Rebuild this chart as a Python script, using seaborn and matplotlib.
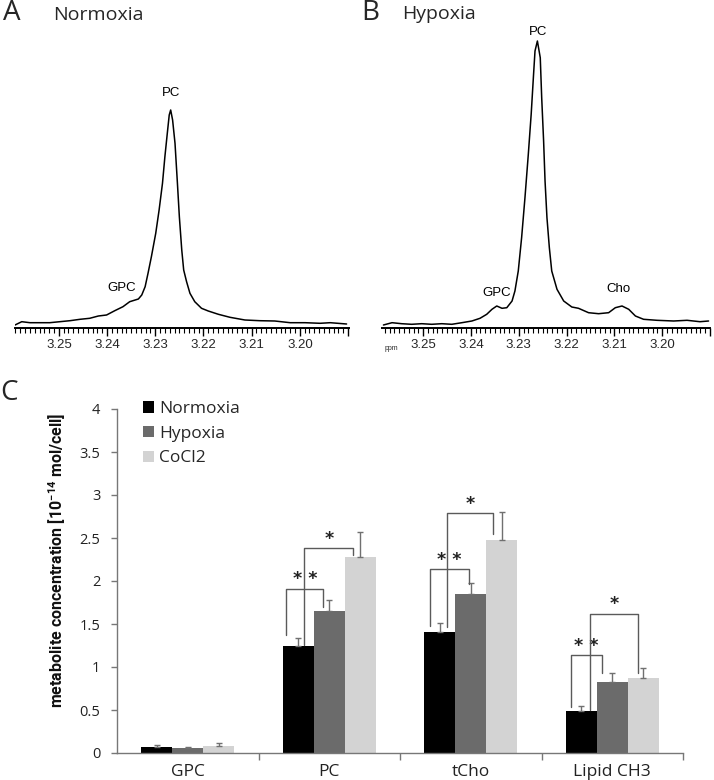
import numpy as np
import pandas as pd
import matplotlib
matplotlib.use("Agg")
import matplotlib.pyplot as plt
import seaborn as sns
from matplotlib.patches import Patch
from matplotlib.ticker import FixedLocator, MultipleLocator

sns.set_theme(style="white")
plt.rcParams["font.family"] = ["Open Sans", "DejaVu Sans"]
plt.rcParams["mathtext.default"] = "regular"

# ---------------- data: spectra ----------------
ppm_norm = [3.2591, 3.2577, 3.2560, 3.2539, 3.2519, 3.2498, 3.2477, 3.2456, 3.2436, 3.2418,
            3.2401, 3.2384, 3.2367, 3.2353, 3.2335, 3.2328, 3.2321, 3.2315, 3.2308, 3.2299,
            3.2292, 3.2285, 3.2280, 3.2275, 3.2271, 3.2268, 3.2264, 3.2259, 3.2254, 3.2250,
            3.2245, 3.2241, 3.2235, 3.2228, 3.2218, 3.2204, 3.2190, 3.2169, 3.2145, 3.2114,
            3.2083, 3.2052, 3.2020, 3.1989, 3.1958, 3.1937, 3.1903]
int_norm = [3, 6.3, 5.3, 5.3, 5.3, 6.3, 7.3, 8.7, 9.7, 12,
            13, 17.3, 21.3, 26.3, 29, 33, 41.3, 54.7, 71.3, 94.7,
            118, 144.7, 171.3, 194.7, 213, 218, 208, 184.7, 144.7, 111.3,
            78, 58, 46.3, 34.7, 26.3, 19.7, 17, 13.7, 10.7, 8,
            7.3, 7, 5.3, 5.3, 4.7, 5.3, 4]

ppm_hyp = [3.2583, 3.2565, 3.2545, 3.2524, 3.2503, 3.2482, 3.2461, 3.2440, 3.2419, 3.2398,
           3.2381, 3.2367, 3.2356, 3.2346, 3.2335, 3.2325, 3.2314, 3.2308, 3.2301, 3.2294,
           3.2287, 3.2280, 3.2274, 3.2269, 3.2266, 3.2261, 3.2255, 3.2252, 3.2248, 3.2245,
           3.2241, 3.2236, 3.2231, 3.2220, 3.2206, 3.2189, 3.2175, 3.2154, 3.2133, 3.2112,
           3.2098, 3.2084, 3.2070, 3.2056, 3.2039, 3.2011, 3.1976, 3.1948, 3.1921, 3.1903]
int_hyp = [3, 5.3, 4.3, 3.7, 4.3, 3.7, 4.3, 3.7, 5.3, 7,
           9.7, 13.7, 18.7, 22, 19.7, 20.3, 27, 37, 57, 90.3,
           130.3, 173.7, 213.7, 253.7, 277, 287, 270.3, 230.3, 187, 147,
           110.3, 80.3, 57, 38.7, 27, 21, 19.7, 15.3, 14.3, 15.3,
           20.3, 22, 18.7, 12, 8.7, 7.7, 7, 7.7, 6.3, 7]

ppm_ticks = [3.25, 3.24, 3.23, 3.22, 3.21, 3.20, 3.19]
ppm_ticklabels = ["3.25", "3.24", "3.23", "3.22", "3.21", "3.20", ""]

peaks_norm = [("PC", 3.2267, 235), ("GPC", 3.2369, 40)]
peaks_hyp = [("PC", 3.2259, 296), ("GPC", 3.2347, 35), ("Cho", 3.2092, 39)]

# ---------------- data: bar chart ----------------
categories = ["GPC", "PC", "tCho", "Lipid CH3"]
conditions = ["Normoxia", "Hypoxia", "CoCl2"]
normoxia = [0.066, 1.25, 1.41, 0.49]
hypoxia = [0.058, 1.65, 1.85, 0.83]
cocl2 = [0.080, 2.28, 2.48, 0.87]
err_normoxia = [0.027, 0.09, 0.10, 0.06]
err_hypoxia = [0.012, 0.13, 0.13, 0.10]
err_cocl2 = [0.040, 0.29, 0.32, 0.12]
yticks = [0, 0.5, 1, 1.5, 2, 2.5, 3, 3.5, 4]
yticklabels = ["0", "0.5", "1", "1.5", "2", "2.5", "3", "3.5", "4"]

# significance brackets: (category, left offset, right offset, top, left bottom, right bottom, label)
brackets = [
    (1, -0.304, -0.042, 1.91, 1.37, 1.70, "* *"),
    (1, -0.177, 0.170, 2.38, 1.26, 2.30, "*"),
    (2, -0.290, -0.012, 2.14, 1.48, 1.97, "* *"),
    (2, -0.167, 0.158, 2.79, 1.47, 2.55, "*"),
    (3, -0.288, -0.074, 1.14, 0.54, 0.93, "* *"),
    (3, -0.159, 0.185, 1.62, 0.50, 0.93, "*"),
]

colors = ["#000000", "#6b6b6b", "#d3d3d3"]

W, H = 714, 780
fig = plt.figure(figsize=(W / 100, H / 100), dpi=100)


def fbox(x0, y0, x1, y1):
    return [x0 / W, 1 - y1 / H, (x1 - x0) / W, (y1 - y0) / H]


def spectrum(ax, ppm, inten, xlim, peaks):
    d = pd.DataFrame({"ppm": ppm, "I": inten})
    sns.lineplot(data=d, x="ppm", y="I", ax=ax, color="black", lw=1.1,
                 estimator=None, sort=False)
    ax.set_xlim(*xlim)
    ax.set_ylim(0, 298)
    for s in ["top", "left", "right"]:
        ax.spines[s].set_visible(False)
    ax.spines["bottom"].set_color("black")
    ax.spines["bottom"].set_linewidth(1.4)
    ax.set_yticks([])
    ax.xaxis.set_major_locator(FixedLocator(ppm_ticks))
    ax.set_xticklabels(ppm_ticklabels)
    ax.xaxis.set_minor_locator(MultipleLocator(0.001))
    ax.tick_params(axis="x", which="major", direction="out", length=6, width=1,
                   color="black", labelsize=9.5, pad=2, bottom=True)
    ax.tick_params(axis="x", which="minor", direction="out", length=3.5, width=0.8,
                   color="black", bottom=True)
    for lab in ax.get_xticklabels():
        lab.set_family(["Liberation Sans", "DejaVu Sans"])
    ax.set_xlabel("")
    ax.set_ylabel("")
    for name, x, y in peaks:
        ax.text(x, y, name, ha="center", va="center", fontsize=9.5,
                family=["Liberation Sans", "DejaVu Sans"], color="black")


axA = fig.add_axes(fbox(15, 30, 349, 328))
spectrum(axA, ppm_norm, int_norm, (3.2591, 3.1898), peaks_norm)
axB = fig.add_axes(fbox(382, 30, 710, 328))
spectrum(axB, ppm_hyp, int_hyp, (3.2586, 3.1900), peaks_hyp)

fig.text(3 / W, 1 - 13 / H, "A", fontsize=20, ha="left", va="center")
fig.text(53 / W, 1 - 15 / H, "Normoxia", fontsize=14, ha="left", va="center")
fig.text(361 / W, 1 - 13 / H, "B", fontsize=20, ha="left", va="center")
fig.text(402 / W, 1 - 14 / H, "Hypoxia", fontsize=14, ha="left", va="center")
fig.text(391 / W, 1 - 348 / H, "ppm", fontsize=5, ha="center", va="center",
         family=["Liberation Sans", "DejaVu Sans"])
fig.text(0 / W, 1 - 393 / H, "C", fontsize=20, ha="left", va="center")

# ---------------- bar chart ----------------
axC = fig.add_axes(fbox(117, 409, 683, 753))
df = pd.DataFrame({
    "category": np.repeat(categories, 3),
    "condition": conditions * len(categories),
    "value": [v for trio in zip(normoxia, hypoxia, cocl2) for v in trio],
})
sns.barplot(data=df, x="category", y="value", hue="condition", order=categories,
            hue_order=conditions, palette=colors, width=0.66, gap=0, errorbar=None,
            saturation=1, ax=axC, legend=False, linewidth=0)

errs = [err_normoxia, err_hypoxia, err_cocl2]
vals = [normoxia, hypoxia, cocl2]
for cont, e, v in zip(axC.containers, errs, vals):
    xs = [p.get_x() + p.get_width() / 2 for p in cont.patches]
    axC.errorbar(xs, v, yerr=[np.zeros(len(e)), e], fmt="none", ecolor="#707070",
                 elinewidth=1, capsize=2.2, capthick=1, zorder=3)

bc = "#5a5a5a"
for cat, lo, ro, top, lb, rb, lab in brackets:
    xl, xr = cat + lo, cat + ro
    axC.plot([xl, xl, xr, xr], [lb, top, top, rb], color=bc, lw=1, zorder=4)
    axC.text((xl + xr) / 2, top + 0.005, lab, ha="center", va="bottom",
             fontsize=12.5, fontweight="bold", color="#222222",
             family=["DejaVu Sans"])

axC.set_xlim(-0.5, 3.5)
axC.set_ylim(0, 4)
axC.set_yticks(yticks)
axC.set_yticklabels(yticklabels)
axC.set_xticks(range(len(categories)))
axC.set_xticklabels(categories)
axC.xaxis.set_minor_locator(FixedLocator([0.5, 1.5, 2.5, 3.5]))
axC.tick_params(axis="x", which="major", length=0, pad=8, labelsize=12.5, colors="#222222")
axC.tick_params(axis="x", which="minor", length=5, width=1, color="#777777", bottom=True,
                direction="out")
axC.tick_params(axis="y", which="major", length=4, width=1, color="#777777", left=True,
                direction="out", pad=8, labelsize=10.5, labelcolor="#222222")
for s in ["top", "right"]:
    axC.spines[s].set_visible(False)
for s in ["left", "bottom"]:
    axC.spines[s].set_color("#777777")
    axC.spines[s].set_linewidth(1)
axC.set_xlabel("")
axC.set_ylabel("")

fig.text(57 / W, 1 - 560 / H, "metabolite concentration [10$^{-14}$ mol/cell]",
         rotation=90, ha="center", va="center", fontsize=11.5, fontweight="bold",
         family=["Roboto", "DejaVu Sans"], color="#111111")

handles = [Patch(facecolor=c, edgecolor="none") for c in colors]
axC.legend(handles, conditions, loc="upper left", bbox_to_anchor=(143 / W, 1 - 401 / H),
           bbox_transform=fig.transFigure, frameon=False, fontsize=12.5,
           handlelength=0.63, handleheight=0.63, handletextpad=0.3,
           labelspacing=0.5, borderpad=0, borderaxespad=0)

fig.savefig("out.png", dpi=100)
